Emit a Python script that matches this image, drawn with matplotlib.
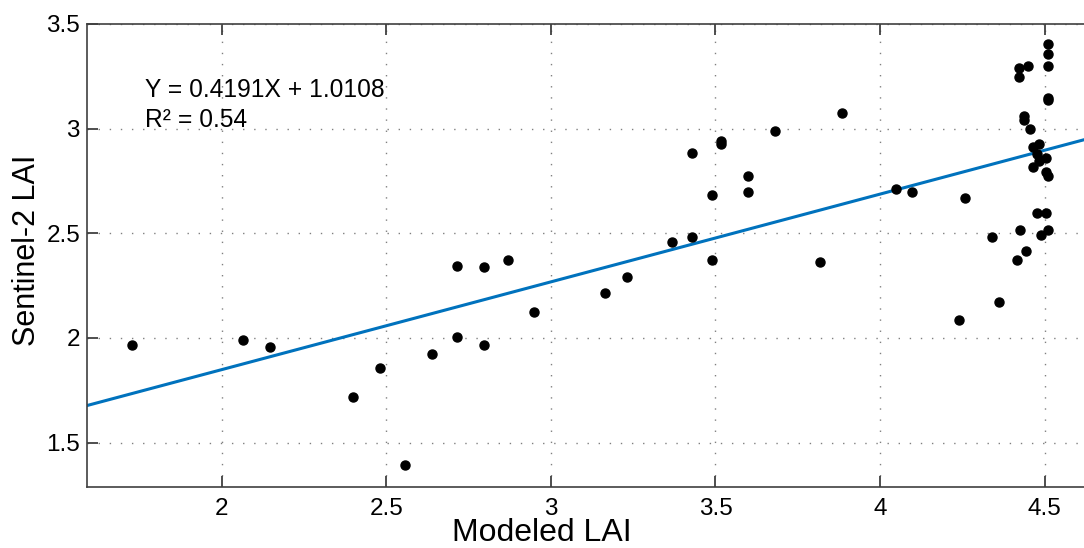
import numpy as np
import matplotlib
matplotlib.use("Agg")
import matplotlib.pyplot as plt

plt.rcParams['font.family'] = ['Liberation Sans', 'DejaVu Sans']

# modeled LAI vs Sentinel-2 LAI
modeled_lai = [1.726, 2.063, 2.145, 2.397, 2.479, 2.556, 2.638, 2.715, 2.715, 2.797,
               2.797, 2.870, 2.947, 3.164, 3.232, 3.368, 3.430, 3.430, 3.490, 3.490,
               3.517, 3.517, 3.599, 3.599, 3.681, 3.819, 3.885, 4.049, 4.098, 4.241,
               4.258, 4.341, 4.362, 4.416, 4.427, 4.444, 4.488, 4.510, 4.477, 4.505,
               4.505, 4.510, 4.505, 4.466, 4.477, 4.483, 4.466, 4.483, 4.456, 4.439,
               4.439, 4.510, 4.510, 4.423, 4.423, 4.451, 4.510, 4.510, 4.510]
s2_lai = [1.968, 1.992, 1.959, 1.717, 1.855, 1.392, 1.924, 2.003, 2.346, 2.338,
          1.967, 2.371, 2.122, 2.216, 2.293, 2.457, 2.482, 2.886, 2.681, 2.371,
          2.940, 2.925, 2.774, 2.697, 2.990, 2.363, 3.076, 2.714, 2.697, 2.087,
          2.671, 2.482, 2.173, 2.371, 2.517, 2.415, 2.490, 2.517, 2.595, 2.595,
          2.793, 2.773, 2.862, 2.817, 2.878, 2.846, 2.913, 2.929, 2.998, 3.059,
          3.043, 3.146, 3.135, 3.290, 3.248, 3.300, 3.300, 3.359, 3.403]

# fitted line from the figure annotation
slope = 0.4191
intercept = 1.0108
r2 = 0.54

xticks = [2, 2.5, 3, 3.5, 4, 4.5]
xticklabels = ['2', '2.5', '3', '3.5', '4', '4.5']
yticks = [1.5, 2, 2.5, 3, 3.5]
yticklabels = ['1.5', '2', '2.5', '3', '3.5']

fig = plt.figure(figsize=(10.84, 5.48), dpi=100)
ax = fig.add_axes([87/1084, 61/548, 997/1084, 463/548])

xlim = (1.59, 4.62)
ylim = (1.288, 3.5)

xl = np.array(xlim)
ax.plot(xl, slope * xl + intercept, color='#0072BD', lw=2.2, zorder=2)
ax.plot(modeled_lai, s2_lai, 'o', color='black', ms=6.5, zorder=3)

ax.set_xlim(xlim)
ax.set_ylim(ylim)
ax.set_xticks(xticks)
ax.set_xticklabels(xticklabels)
ax.set_yticks(yticks)
ax.set_yticklabels(yticklabels)

ax.grid(True, linestyle=(0, (1, 7)), color='0.5', lw=1)
ax.set_axisbelow(True)
ax.tick_params(direction='in', top=True, right=False, length=8, width=1.3,
               color='#404040', labelsize=17.5)
ax.tick_params(axis='x', pad=8)
ax.tick_params(axis='y', pad=5)
for side in ['left', 'bottom', 'top']:
    ax.spines[side].set_color('#404040')
    ax.spines[side].set_linewidth(1.2)
ax.spines['right'].set_visible(False)

ax.set_xlabel('Modeled LAI', fontsize=23, va='baseline')
ax.xaxis.set_label_coords(0.4559, -0.1166)
ax.set_ylabel('Sentinel-2 LAI', fontsize=22, va='baseline')
ax.yaxis.set_label_coords(-0.0522, 0.512)

ax.text(0.058, 0.843, f'Y = {slope}X + {intercept}', transform=ax.transAxes,
        fontsize=17.7, va='baseline', ha='left')
ax.text(0.058, 0.777, f'R\u00b2 = {r2}', transform=ax.transAxes,
        fontsize=17.7, va='baseline', ha='left')

fig.savefig('out.png', dpi=100)
